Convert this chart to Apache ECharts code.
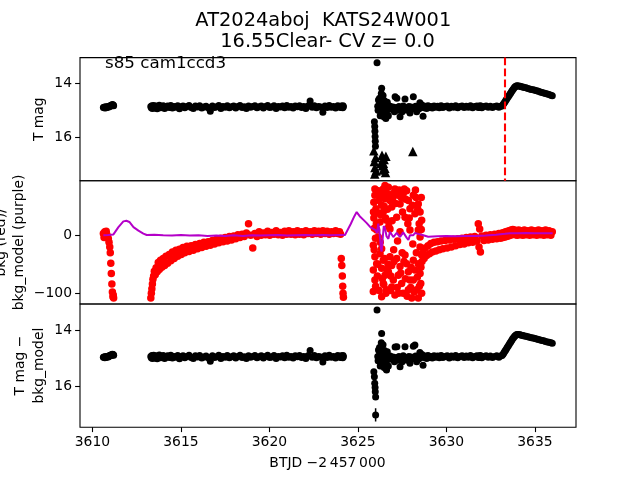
<!DOCTYPE html>
<html><head><meta charset="utf-8">
<script src="https://cdn.jsdelivr.net/npm/echarts@6/dist/echarts.min.js"></script>
<style>html,body{margin:0;padding:0;background:#fff}#chart{width:640px;height:480px}</style>
</head><body><div id="chart"></div>
<script>
// ---------- data ----------
const xTicks = [3610, 3615, 3620, 3625, 3630, 3635];
const magTicks = [14, 16];
const bkgTicks = [-100, 0];
const discoveryT = 3633.3;

// orbit segment 1
const t1 = [3610.62, 3610.66, 3610.70, 3610.74, 3610.78, 3610.82, 3610.86, 3610.90, 3610.94, 3610.98, 3611.01, 3611.04, 3611.07, 3611.10, 3611.13, 3611.16, 3611.18, 3611.20];
const mag1 = [14.90, 14.89, 14.92, 14.87, 14.91, 14.88, 14.87, 14.89, 14.85, 14.86, 14.83, 14.84, 14.81, 14.82, 14.79, 14.82, 14.80, 14.83];
const bkg1 = [3, -4, 6, -1, 7, 1, -3, -6, -12, -20, -30, -48, -66, -84, -98, -106, -103, -108];
const sub1 = [14.96, 14.95, 14.98, 14.93, 14.97, 14.94, 14.93, 14.95, 14.91, 14.92, 14.89, 14.90, 14.87, 14.88, 14.85, 14.88, 14.86, 14.89];

// segment 2
const t2 = [3613.30, 3613.33, 3613.36, 3613.39, 3613.42, 3613.46, 3613.50, 3613.55, 3613.60, 3613.66,
  3613.72, 3613.78, 3613.85, 3613.92, 3614.00, 3614.08, 3614.16, 3614.25, 3614.34, 3614.43,
  3614.52, 3614.62, 3614.72, 3614.82, 3614.92, 3615.02, 3615.12, 3615.22, 3615.34, 3615.46,
  3615.58, 3615.70, 3615.82, 3615.94, 3616.06, 3616.18, 3616.30, 3616.42, 3616.54, 3616.66,
  3616.78, 3616.90, 3617.02, 3617.14, 3617.26, 3617.38, 3617.50, 3617.62, 3617.74, 3617.86,
  3617.98, 3618.10, 3618.22, 3618.34, 3618.46, 3618.58, 3618.70, 3618.82, 3618.94, 3619.06,
  3619.18, 3619.30, 3619.42, 3619.54, 3619.66, 3619.78, 3619.90, 3620.02, 3620.14, 3620.26,
  3620.38, 3620.50, 3620.62, 3620.74, 3620.86, 3620.98, 3621.10, 3621.22, 3621.34, 3621.46,
  3621.58, 3621.70, 3621.82, 3621.94, 3622.06, 3622.18, 3622.30, 3622.42, 3622.54, 3622.66,
  3622.78, 3622.90, 3623.02, 3623.14, 3623.26, 3623.38, 3623.50, 3623.62, 3623.74, 3623.86,
  3623.96, 3624.02, 3624.06, 3624.09, 3624.12, 3624.14, 3624.16, 3624.18];
const mag2 = [14.86, 14.91, 14.83, 14.93, 14.87, 14.82, 14.92, 14.88, 14.84, 14.94,
  14.86, 14.81, 14.91, 14.87, 14.83, 14.93, 14.88, 14.84, 14.90, 14.82,
  14.92, 14.86, 14.89, 14.83, 14.94, 14.87, 14.84, 14.91, 14.86, 14.82,
  14.90, 14.93, 14.84, 14.88, 14.83, 14.92, 14.88, 14.85, 14.91, 15.04,
  14.84, 14.90, 14.87, 14.82, 14.93, 14.86, 14.89, 14.83, 14.91, 14.87,
  14.84, 14.92, 14.86, 14.82, 14.90, 14.87, 14.93, 14.84, 14.89, 14.86,
  14.83, 14.91, 14.87, 14.84, 14.92, 14.86, 14.82, 14.90, 14.88, 14.83,
  14.93, 14.86, 14.88, 14.84, 14.91, 14.82, 14.89, 14.86, 14.92, 14.84,
  14.87, 14.83, 14.90, 14.86, 14.93, 14.84, 14.66, 14.89, 14.83, 14.91,
  14.86, 14.88, 15.07, 14.84, 14.90, 14.82, 14.89, 14.86, 14.92, 14.83,
  14.87, 14.90, 14.84, 14.89, 14.86, 14.91, 14.83, 14.87];
const bkg2 = [-108, -100, -92, -84, -76, -70, -62, -68, -56, -63,
  -47, -59, -43, -55, -40, -52, -36, -48, -33, -44,
  -29, -40, -26, -36, -24, -33, -21, -30, -19, -28,
  -18, -26, -16, -23, -14, -21, -12, -19, -11, -17,
  -9, -15, -7, -13, -5, -11, -4, -10, -2, -8,
  -1, -6, 1, -4, 2, -2, 4, 20, 0, -22,
  3, -2, 6, 0, 4, 1, 7, 0, 5, 2,
  8, 1, 5, 0, 7, 2, 8, 2, 6, 1,
  8, 2, 6, 1, 8, 3, 6, 2, 8, 3,
  7, 2, 8, 3, 7, 2, 6, 3, 8, 3,
  6, 2, -40, -52, -70, -88, -100, -107];
const sub2 = [14.93, 14.98, 14.90, 15.00, 14.94, 14.89, 14.99, 14.95, 14.91, 15.01,
  14.93, 14.88, 14.98, 14.94, 14.90, 15.00, 14.95, 14.91, 14.97, 14.89,
  14.99, 14.93, 14.96, 14.90, 15.01, 14.94, 14.91, 14.98, 14.93, 14.89,
  14.97, 15.00, 14.91, 14.95, 14.90, 14.99, 14.95, 14.92, 14.98, 15.10,
  14.91, 14.97, 14.94, 14.89, 15.00, 14.93, 14.96, 14.90, 14.98, 14.94,
  14.91, 14.99, 14.93, 14.89, 14.97, 14.94, 15.00, 14.91, 14.96, 14.93,
  14.90, 14.98, 14.94, 14.91, 14.99, 14.93, 14.89, 14.97, 14.95, 14.90,
  15.00, 14.93, 14.95, 14.91, 14.98, 14.89, 14.96, 14.93, 14.99, 14.91,
  14.94, 14.90, 14.97, 14.93, 15.00, 14.91, 14.72, 14.96, 14.90, 14.98,
  14.93, 14.95, 15.13, 14.91, 14.97, 14.89, 14.96, 14.93, 14.99, 14.90,
  14.94, 14.97, 14.91, 14.96, 14.93, 14.98, 14.90, 14.94];

// segment 3 (after the noisy stretch)
const t3 = [3628.62, 3628.68, 3628.74, 3628.80, 3628.88, 3628.96, 3629.04, 3629.12, 3629.20, 3629.30,
  3629.40, 3629.50, 3629.60, 3629.70, 3629.80, 3629.92, 3630.04, 3630.16, 3630.28, 3630.40,
  3630.52, 3630.64, 3630.76, 3630.88, 3631.00, 3631.12, 3631.24, 3631.36, 3631.48, 3631.60,
  3631.72, 3631.80, 3631.84, 3631.88, 3631.92, 3632.00, 3632.12, 3632.24, 3632.36, 3632.48,
  3632.60, 3632.72, 3632.84, 3632.96, 3633.06, 3633.14, 3633.20, 3633.25, 3633.30, 3633.35,
  3633.40, 3633.45, 3633.50, 3633.55, 3633.60, 3633.65, 3633.70, 3633.75, 3633.80, 3633.85,
  3633.90, 3633.95, 3634.00, 3634.08, 3634.16, 3634.24, 3634.32, 3634.40, 3634.50, 3634.60,
  3634.70, 3634.80, 3634.90, 3635.00, 3635.10, 3635.20, 3635.30, 3635.40, 3635.50, 3635.60,
  3635.70, 3635.80, 3635.90, 3635.98];
const mag3 = [14.80, 15.22, 14.91, 14.85, 14.93, 14.83, 14.90, 14.86, 14.92, 14.84,
  14.89, 14.85, 14.91, 14.83, 14.90, 14.86, 14.84, 14.92, 14.85, 14.89,
  14.83, 14.91, 14.86, 14.84, 14.90, 14.85, 14.89, 14.83, 14.91, 14.86,
  14.84, 14.90, 14.85, 14.89, 14.83, 14.91, 14.86, 14.84, 14.89, 14.85,
  14.90, 14.86, 14.84, 14.89, 14.85, 14.84, 14.79, 14.74, 14.69, 14.64,
  14.59, 14.54, 14.49, 14.44, 14.39, 14.34, 14.29, 14.24, 14.19, 14.15,
  14.12, 14.10, 14.09, 14.10, 14.11, 14.13, 14.14, 14.16, 14.17, 14.19,
  14.21, 14.23, 14.24, 14.26, 14.28, 14.30, 14.32, 14.34, 14.36, 14.38,
  14.40, 14.42, 14.44, 14.46];
const bkg3 = [-45, -30, -40, -22, -35, -18, -32, -14, -29, -12,
  -27, -11, -25, -10, -23, -9, -22, -8, -20, -7,
  -18, -6, -16, -5, -15, -4, -13, -3, -12, -2,
  -10, 20, -20, 11, -29, -1, -9, 0, -8, 1,
  -7, 2, -6, 3, -5, 4, -4, 5, -3, 6,
  -2, 7, -1, 8, 0, 9, 1, 10, 2, 9,
  1, 8, 0, 9, 1, 8, 0, 9, 1, 8,
  0, 9, 1, 8, 0, 9, 1, 8, 0, 9,
  1, 8, 0, 6];
const sub3 = [14.86, 15.24, 14.97, 14.92, 15.00, 14.90, 14.97, 14.93, 14.99, 14.91,
  14.96, 14.92, 14.98, 14.90, 14.97, 14.93, 14.91, 14.99, 14.92, 14.96,
  14.90, 14.98, 14.93, 14.91, 14.97, 14.92, 14.96, 14.90, 14.98, 14.93,
  14.91, 14.97, 14.92, 14.96, 14.90, 14.98, 14.93, 14.91, 14.96, 14.92,
  14.97, 14.93, 14.91, 14.96, 14.92, 14.90, 14.85, 14.80, 14.75, 14.70,
  14.65, 14.60, 14.55, 14.50, 14.45, 14.40, 14.35, 14.30, 14.26, 14.22,
  14.19, 14.17, 14.16, 14.16, 14.17, 14.18, 14.19, 14.21, 14.22, 14.24,
  14.25, 14.27, 14.28, 14.30, 14.32, 14.33, 14.35, 14.37, 14.38, 14.40,
  14.42, 14.43, 14.45, 14.47];

// noisy stretch 3625.9 - 3628.6 : [BTJD, value]
const noisyMag = [
  [3625.93,15.42],[3625.95,15.60],[3625.96,15.78],[3625.97,15.97],[3625.98,16.15],[3625.99,16.33],
  [3626.08,13.24],
  [3626.12,14.85],[3626.14,15.00],[3626.16,14.62],[3626.20,14.95],[3626.22,14.55],[3626.24,14.75],[3626.26,15.20],
  [3626.28,15.05],[3626.30,14.90],[3626.32,14.38],[3626.34,14.18],[3626.37,14.88],[3626.40,15.15],[3626.42,14.45],
  [3626.44,14.70],[3626.46,14.95],[3626.48,15.25],[3626.50,14.65],[3626.52,14.92],[3626.56,14.80],[3626.58,15.30],
  [3626.60,15.10],[3626.64,14.98],[3626.66,14.70],[3626.68,14.86],[3626.72,15.20],[3626.74,14.95],[3626.76,14.90],
  [3626.82,14.85],[3626.90,14.96],[3626.98,14.88],[3627.06,15.05],[3627.10,14.50],[3627.16,14.90],[3627.20,14.55],
  [3627.26,15.00],[3627.32,14.86],[3627.38,15.24],[3627.44,14.92],[3627.50,15.05],[3627.56,14.84],[3627.62,14.98],
  [3627.66,14.58],[3627.72,14.90],[3627.80,15.00],[3627.88,14.86],[3627.94,15.10],[3628.00,14.88],[3628.06,14.95],
  [3628.13,14.50],[3628.20,14.90],[3628.26,14.85],[3628.32,15.05],[3628.38,14.88],[3628.44,14.95],[3628.50,14.72],
  [3628.56,14.90]];
const limitMag = [[3625.90,16.50],[3625.93,16.90],[3625.96,17.12],[3625.95,17.36],[3626.00,16.75],[3626.02,17.25],
  [3626.36,16.66],[3626.30,16.96],[3626.44,16.96],[3626.52,17.15],[3626.42,17.21],[3626.58,16.70],
  [3626.38,17.05],[3626.48,16.82],[3626.56,17.30],[3628.10,16.53]];
const noisyBkg = [
  [3625.96,80],[3625.96,69],[3625.90,57],[3626.02,46],[3626.15,77],[3626.28,69],[3626.43,80],[3626.53,63],
  [3626.62,72],[3626.72,83],[3626.34,52],[3626.43,40],[3626.81,60],[3626.91,49],[3627.00,72],[3627.09,80],
  [3627.28,69],[3627.38,54],[3627.56,72],[3627.75,77],[3627.85,60],[3627.94,46],[3628.13,69],[3628.22,37],
  [3628.41,54],[3628.51,40],[3627.66,31],[3627.19,31],[3626.62,26],[3626.25,23],[3628.60,26],[3626.53,86],
  [3626.06,9],[3626.15,-3],[3626.81,11],[3627.38,6],[3627.94,9],[3628.41,9],[3628.51,-3],[3625.87,-17],[3626.34,-23],
  [3625.96,-37],[3626.06,-49],[3625.87,-60],[3625.96,-77],[3625.87,-97],[3626.25,-32],[3626.43,-43],[3626.34,-57],
  [3626.53,-69],[3626.43,-83],[3626.62,-94],[3626.34,-106],[3626.81,-37],[3626.91,-52],[3626.72,-63],[3627.00,-77],
  [3626.91,-89],[3627.09,-103],[3627.19,-40],[3627.38,-54],[3627.28,-69],[3627.47,-83],[3627.56,-100],[3627.66,-34],
  [3627.75,-49],[3627.85,-63],[3627.94,-77],[3627.85,-94],[3628.04,-108],[3628.13,-43],[3628.22,-60],[3628.13,-77],
  [3628.32,-94],[3628.41,-49],[3628.51,-66],[3628.55,-83],[3628.60,-100],[3628.41,-108],[3628.51,-20],[3628.60,-34],
  [3625.90,30],[3625.93,12],[3625.99,-5],[3626.00,-88],[3626.10,-70],[3626.20,60],[3626.20,-95],[3626.30,35],
  [3626.38,-75],[3626.48,50],[3626.50,-40],[3626.58,-100],[3626.67,45],[3626.70,-50],[3626.77,70],[3626.86,-70],
  [3626.95,62],[3627.04,-45],[3627.13,55],[3627.22,-90],[3627.33,78],[3627.42,-65],[3627.52,40],[3627.60,-45],
  [3627.70,62],[3627.78,-105],[3627.90,30],[3628.00,-55],[3628.08,52],[3628.18,-98],[3628.28,65],[3628.36,-72],
  [3628.46,20],[3628.56,-55],[3628.47,-88],
  [3625.88,40],[3625.92,-25],[3626.04,20],[3626.12,-50],[3626.18,38],[3626.26,-12],[3626.36,72],[3626.46,-85],
  [3626.56,30],[3626.64,-60],[3626.74,15],[3626.84,-95],[3626.93,25],[3627.02,-25],[3627.12,70],[3627.24,-10],
  [3627.30,-100],[3627.45,65],[3627.50,-30],[3627.62,80],[3627.68,-75],[3627.82,20],[3627.98,-90],[3628.10,-15],
  [3628.25,78],[3628.30,-30],[3628.38,45],[3628.58,65],[3628.58,10]];
const noisySub = [
  [3625.90,15.47],[3625.93,15.65],[3625.95,15.88],[3625.97,16.03],[3625.98,16.18],[3626.00,16.36],[3626.00,17.00],
  [3626.08,13.29],
  [3626.12,14.93],[3626.14,15.08],[3626.16,14.70],[3626.20,15.02],[3626.22,14.62],[3626.24,14.82],[3626.26,15.27],
  [3626.28,15.12],[3626.30,14.97],[3626.32,14.45],[3626.34,14.12],[3626.37,14.95],[3626.40,15.22],[3626.42,14.52],
  [3626.44,14.77],[3626.46,15.02],[3626.48,15.32],[3626.50,14.72],[3626.52,14.99],[3626.56,14.87],[3626.58,15.37],
  [3626.60,15.17],[3626.62,15.41],[3626.66,14.77],[3626.68,14.93],[3626.72,15.27],[3626.74,15.02],[3626.76,14.97],
  [3626.82,14.92],[3626.90,15.03],[3626.98,14.95],[3627.06,15.12],[3627.10,14.60],[3627.16,14.97],[3627.20,14.59],
  [3627.26,15.07],[3627.32,14.93],[3627.38,15.30],[3627.44,14.99],[3627.50,15.12],[3627.56,14.91],[3627.62,15.05],
  [3627.66,14.59],[3627.72,14.97],[3627.80,15.07],[3627.88,14.93],[3627.94,15.17],[3628.00,14.95],[3628.06,15.02],
  [3628.13,14.57],[3628.22,14.53],[3628.26,14.92],[3628.32,15.12],[3628.38,14.95],[3628.44,15.02],[3628.50,14.79],
  [3628.56,14.97]];
const errBarT = [3626.00, 3626.00];
const errBarMag = [16.76, 17.23];

// background model (purple line)
const modelT = [3610.62, 3610.90, 3611.19, 3611.47, 3611.75, 3611.92, 3612.09, 3612.32, 3612.60, 3612.88,
  3613.07, 3613.50, 3614.00, 3614.50, 3615.00, 3615.50, 3616.00, 3616.50, 3617.00, 3617.50,
  3618.00, 3618.50, 3619.00, 3619.50, 3620.00, 3620.50, 3621.00, 3621.50, 3622.00, 3622.50,
  3623.00, 3623.50, 3624.00, 3624.27, 3624.37, 3624.60, 3624.80, 3624.93, 3625.10, 3625.30,
  3625.50, 3625.70, 3625.87, 3626.00, 3626.08, 3626.15, 3626.22, 3626.30, 3626.34, 3626.40,
  3626.46, 3626.53, 3626.62, 3626.72, 3626.81, 3626.91, 3627.00, 3627.09, 3627.19, 3627.28,
  3627.38, 3627.47, 3627.56, 3627.66, 3627.75, 3627.85, 3627.94, 3628.04, 3628.13, 3628.22,
  3628.32, 3628.45, 3628.60, 3628.69, 3628.97, 3629.50, 3630.00, 3630.50, 3631.00, 3631.70,
  3632.20, 3632.80, 3633.30, 3633.60, 3634.00, 3634.50, 3635.00, 3635.50, 3636.00];
const modelV = [0, 0.5, 1.5, 14, 24, 25, 23, 14, 8, 3,
  0.5, 1, 0, -0.5, 0.5, -0.5, 0, -1, -0.5, -1,
  0, -1, 0, -0.5, 0, 0.5, -0.5, 0, 0.5, 0,
  0.5, 0, 0.5, 0.5, 3, 20, 33, 40, 33, 27,
  21, 14, 11, 9, 4, 20, 5, -22, -28, -5,
  16, 12, -2, -6, 6, 9, -3, -6, 4, 6,
  -3, -4, 5, 6, -4, -8, 0, 2, 0, 4,
  6, 2, 1, 0, -2.5, -1.5, -1, -1.5, -1, -1,
  -0.5, 1, 2.5, 3.5, 3.5, 4, 3.5, 3.5, 3.5];

// ---------- build ----------
function pairs(t, v) { return t.map((x, i) => [x, v[i]]); }
const magPts = [].concat(pairs(t1, mag1), pairs(t2, mag2), pairs(t3, mag3), noisyMag);
const bkgPts = [].concat(pairs(t1, bkg1), pairs(t2, bkg2), pairs(t3, bkg3), noisyBkg);
const subPts = [].concat(pairs(t1, sub1), pairs(t2, sub2), pairs(t3, sub3), noisySub);
const modelPts = pairs(modelT, modelV);
const errPts = pairs(errBarT, errBarMag);

const FONT = 'DejaVu Sans';
const FS = 13.9;
const BLACK = '#000000', RED = '#ff0000', PURPLE = '#b400c8';
const L = 80, W = 496, H = 123.2;
const tops = [57.6, 180.8, 304];
const fmt = v => String(v).replace('-', '\u2212');

function xAx(i, show) {
  return {
    type: 'value', gridIndex: i, min: 3609.3, max: 3637.32,
    axisLine: { show: false }, splitLine: { show: false },
    axisTick: { show: show, length: 4.9, lineStyle: { color: BLACK, width: 1.1 }, customValues: xTicks },
    axisLabel: { show: show, margin: 8, color: BLACK, fontSize: FS, fontFamily: FONT, customValues: xTicks, formatter: fmt }
  };
}
function yAx(i, min, max, inv, ticks) {
  return {
    type: 'value', gridIndex: i, min: min, max: max, inverse: inv,
    axisLine: { show: false }, splitLine: { show: false },
    axisTick: { show: true, length: 4.9, lineStyle: { color: BLACK, width: 1.1 }, customValues: ticks },
    axisLabel: { show: true, margin: 8, color: BLACK, fontSize: FS, fontFamily: FONT, customValues: ticks, formatter: fmt }
  };
}
function txt(text, x, y, size, align, rot) {
  return { type: 'text', x: x, y: y, rotation: rot || 0, silent: true,
    style: { text: text, font: size + 'px "' + FONT + '"', fill: BLACK, textAlign: align || 'center', textVerticalAlign: 'middle' } };
}

const chart = echarts.init(document.getElementById('chart'), null, { renderer: 'canvas' });
chart.setOption({
  animation: false,
  backgroundColor: '#ffffff',
  textStyle: { fontFamily: FONT },
  grid: tops.map(t => ({ left: L, top: t, width: W, height: H, show: true, borderColor: BLACK, borderWidth: 1.1,
    backgroundColor: 'transparent', containLabel: false, outerBoundsMode: 'none' })),
  xAxis: [xAx(0, false), xAx(1, false), xAx(2, true)],
  yAxis: [yAx(0, 13.05, 17.61, true, magTicks), yAx(1, -118.5, 94, false, bkgTicks), yAx(2, 13.08, 17.43, true, magTicks)],
  series: [
    { type: 'scatter', xAxisIndex: 0, yAxisIndex: 0, data: magPts, symbolSize: 7, itemStyle: { color: BLACK, opacity: 1 }, silent: true, z: 2 },
    { type: 'scatter', xAxisIndex: 0, yAxisIndex: 0, data: limitMag, symbol: 'triangle', symbolSize: 9.5, itemStyle: { color: BLACK, opacity: 1 }, silent: true, z: 2 },
    { type: 'line', xAxisIndex: 0, yAxisIndex: 0, data: [], silent: true, z: 6,
      markLine: { silent: true, symbol: ['none', 'none'], label: { show: false }, animation: false,
        lineStyle: { color: RED, type: [7.7, 3.3], width: 2.1 }, data: [{ xAxis: discoveryT }] } },
    { type: 'scatter', xAxisIndex: 1, yAxisIndex: 1, data: bkgPts, symbolSize: 7.5, itemStyle: { color: RED, opacity: 1 }, silent: true, z: 2 },
    { type: 'line', xAxisIndex: 1, yAxisIndex: 1, data: modelPts, showSymbol: false, symbol: 'none', silent: true, z: 4,
      lineStyle: { color: PURPLE, width: 2 } },
    { type: 'scatter', xAxisIndex: 2, yAxisIndex: 2, data: subPts, symbolSize: 7, itemStyle: { color: BLACK, opacity: 1 }, silent: true, z: 2 },
    { type: 'line', xAxisIndex: 2, yAxisIndex: 2, data: errPts, showSymbol: false, symbol: 'none', silent: true, z: 3,
      lineStyle: { color: BLACK, width: 1.5 } }
  ],
  graphic: [
    txt('AT2024aboj  KATS24W001', 323.3, 20.8, 19.4),
    txt('16.55Clear- CV z= 0.0', 327.5, 42.2, 19.4),
    txt('s85 cam1ccd3', 105, 64, 16.7, 'left'),
    txt('T mag', 39, 119.2, FS, 'center', Math.PI / 2),
    txt('bkg (red)/', 1.5, 242.4, FS, 'center', Math.PI / 2),
    txt('bkg_model (purple)', 19.5, 242.4, FS, 'center', Math.PI / 2),
    txt('T mag \u2212', 20.5, 365.6, FS, 'center', Math.PI / 2),
    txt('bkg_model', 39, 365.6, FS, 'center', Math.PI / 2),
    txt('BTJD \u22122\u2009457\u2009000', 327.5, 463.5, FS)
  ]
});
</script></body></html>
